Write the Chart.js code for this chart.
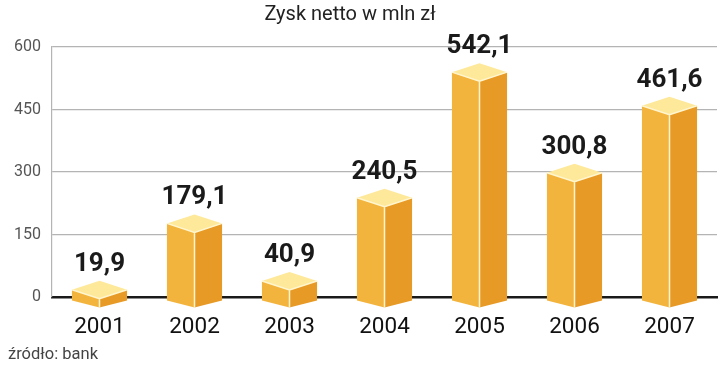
<!DOCTYPE html>
<html><head><meta charset="utf-8">
<script src="https://cdn.jsdelivr.net/npm/chart.js@4/dist/chart.umd.min.js"></script>
<style>html,body{margin:0;padding:0;background:#fff}#wrap{width:720px;height:369px}</style>
</head><body><div id="wrap"><canvas id="c" width="720" height="369"></canvas></div>
<script>
const categories = ["2001","2002","2003","2004","2005","2006","2007"];
const values = [19.9, 179.1, 40.9, 240.5, 542.1, 300.8, 461.6];
const valueLabels = ["19,9","179,1","40,9","240,5","542,1","300,8","461,6"];
const yTicks = [0,150,300,450,600];
const titleText = "Zysk netto w mln zł";
const sourceText = "źródło: bank";

const prism = {
  id:'prism',
  afterDatasetsDraw(chart){
    const ctx = chart.ctx;
    const meta = chart.getDatasetMeta(0);
    meta.data.forEach((el,i)=>{
      const cx = el.x, w = el.width/2, yv = el.y + 1, yb = el.base;
      const d = 9;
      const yBotSide = yb + 4, yBotFront = yb + 11;
      ctx.save();
      ctx.fillStyle = '#F3B43E';
      ctx.beginPath();
      ctx.moveTo(cx-w, yv); ctx.lineTo(cx, yv+d); ctx.lineTo(cx, yBotFront); ctx.lineTo(cx-w, yBotSide); ctx.closePath(); ctx.fill();
      ctx.fillStyle = '#E89A27';
      ctx.beginPath();
      ctx.moveTo(cx+w, yv); ctx.lineTo(cx, yv+d); ctx.lineTo(cx, yBotFront); ctx.lineTo(cx+w, yBotSide); ctx.closePath(); ctx.fill();
      ctx.fillStyle = '#FEE89A';
      ctx.beginPath();
      ctx.moveTo(cx-w, yv); ctx.lineTo(cx, yv-d); ctx.lineTo(cx+w, yv); ctx.lineTo(cx, yv+d); ctx.closePath(); ctx.fill();
      ctx.strokeStyle = '#FFF6CF'; ctx.lineWidth = 1.5;
      ctx.beginPath();
      ctx.moveTo(cx-w, yv); ctx.lineTo(cx, yv+d); ctx.lineTo(cx+w, yv);
      ctx.moveTo(cx, yv+d); ctx.lineTo(cx, yBotFront);
      ctx.stroke();
      ctx.fillStyle = '#1a1a1a';
      ctx.font = 'bold 26px Roboto, "DejaVu Sans", sans-serif';
      ctx.textAlign = 'center'; ctx.textBaseline = 'alphabetic';
      ctx.fillText(valueLabels[i], cx, yv - d - 10);
      ctx.restore();
    });
  },
  afterDraw(chart){
    const ctx = chart.ctx;
    ctx.save();
    ctx.fillStyle = '#222';
    ctx.font = '20px Roboto, "DejaVu Sans", sans-serif';
    ctx.textAlign = 'center'; ctx.textBaseline = 'middle';
    ctx.fillText(titleText, 350, 15);
    ctx.fillStyle = '#444';
    ctx.font = '16.5px Roboto, "DejaVu Sans", sans-serif';
    ctx.textAlign = 'left';
    ctx.fillText(sourceText, 8, 355);
    ctx.restore();
  }
};

new Chart(document.getElementById('c'), {
  type:'bar',
  data:{labels:categories, datasets:[{data:values, backgroundColor:'rgba(0,0,0,0)', borderWidth:0, barPercentage:0.58, categoryPercentage:1}]},
  options:{
    responsive:false, animation:false,
    layout:{padding:{top:47,right:3,left:0,bottom:0}},
    plugins:{legend:{display:false}, tooltip:{enabled:false}, title:{display:false}},
    scales:{
      x:{
        grid:{display:false},
        border:{display:true, color:'#1a1a1a', width:2.5},
        ticks:{color:'#111', font:{size:22.5, family:'Roboto, "DejaVu Sans", sans-serif'}, padding:9, maxRotation:0},
        afterFit(s){ s.height = 72; }
      },
      y:{
        min:0, max:600,
        afterBuildTicks(s){ s.ticks = yTicks.map(v=>({value:v})); },
        grid:{color:(c)=> c.tick && c.tick.value===0 ? 'rgba(0,0,0,0)' : '#b4b4b4', lineWidth:1.2, drawTicks:false},
        border:{display:true, color:'#b4b4b4', width:1.2},
        ticks:{color:'#555', font:{size:16, family:'Roboto, "DejaVu Sans", sans-serif'}, padding:11},
        afterFit(s){ s.width = 52; }
      }
    }
  },
  plugins:[prism]
});
</script></body></html>
